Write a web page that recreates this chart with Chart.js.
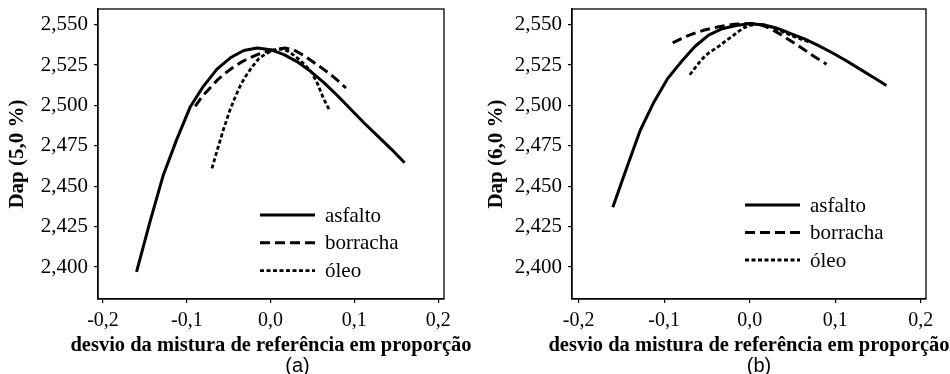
<!DOCTYPE html>
<html>
<head>
<meta charset="utf-8">
<script src="https://cdn.jsdelivr.net/npm/chart.js@4/dist/chart.umd.min.js"></script>
<style>
  html, body { margin: 0; padding: 0; background: #fff; }
  #wrap { position: relative; width: 950px; height: 374px; overflow: hidden; }
  canvas { position: absolute; top: 0; }
  #cA { left: 0; }
  #cB { left: 475px; }
</style>
</head>
<body>
<div id="wrap">
  <canvas id="cA" width="475" height="374"></canvas>
  <canvas id="cB" width="475" height="374"></canvas>
</div>
<script>
// Deviation from the reference mix (proportion) for each binder component
const asfaltoX  = [-0.16, -0.144, -0.128, -0.112, -0.096, -0.08, -0.064, -0.048, -0.032, -0.016, 0, 0.016, 0.032, 0.048, 0.064, 0.08, 0.096, 0.112, 0.128, 0.144, 0.16];
const borrachaX = [-0.09, -0.081, -0.072, -0.063, -0.054, -0.045, -0.036, -0.027, -0.018, -0.009, 0, 0.009, 0.018, 0.027, 0.036, 0.045, 0.054, 0.063, 0.072, 0.081, 0.09];
const oleoX     = [-0.07, -0.063, -0.056, -0.049, -0.042, -0.035, -0.028, -0.021, -0.014, -0.007, 0, 0.007, 0.014, 0.021, 0.028, 0.035, 0.042, 0.049, 0.056, 0.063, 0.07];

// (a) Dap at 5,0 % binder
const asfaltoA  = [2.397, 2.428, 2.457, 2.479, 2.499, 2.512, 2.5225, 2.5295, 2.534, 2.5355, 2.5345, 2.5315, 2.527, 2.521, 2.514, 2.506, 2.4975, 2.489, 2.481, 2.473, 2.4645];
const borrachaA = [2.4995, 2.506, 2.511, 2.516, 2.520, 2.5235, 2.5265, 2.529, 2.531, 2.5328, 2.534, 2.535, 2.5355, 2.5345, 2.532, 2.529, 2.5258, 2.5225, 2.519, 2.515, 2.5108];
const oleoA     = [2.461, 2.4735, 2.4855, 2.4965, 2.5055, 2.5135, 2.5195, 2.5245, 2.529, 2.5315, 2.5335, 2.5348, 2.5348, 2.5335, 2.531, 2.528, 2.5245, 2.5205, 2.5135, 2.5045, 2.4973];

// (b) Dap at 6,0 % binder
const asfaltoB  = [2.437, 2.461, 2.4845, 2.502, 2.5165, 2.527, 2.5365, 2.5435, 2.5475, 2.5495, 2.5505, 2.550, 2.5478, 2.5445, 2.5412, 2.5372, 2.5328, 2.528, 2.5228, 2.5176, 2.5124];
const borrachaB = [2.5387, 2.541, 2.5432, 2.545, 2.5465, 2.5477, 2.5487, 2.5495, 2.5502, 2.5506, 2.5508, 2.5505, 2.549, 2.5468, 2.544, 2.541, 2.538, 2.5348, 2.5315, 2.5285, 2.5255];
const oleoB     = [2.519, 2.5238, 2.5285, 2.532, 2.5345, 2.537, 2.540, 2.5425, 2.5455, 2.548, 2.5495, 2.5502, 2.550, 2.5493, 2.548, 2.5465, 2.5448, 2.5432, 2.5418, 2.5405, 2.5392];

const seriesNames = ['asfalto', 'borracha', 'óleo'];
const xTickValues = [-0.2, -0.1, 0.0, 0.1, 0.2];
const yTickValues = [2.400, 2.425, 2.450, 2.475, 2.500, 2.525, 2.550];
const xAxisTitle = 'desvio da mistura de referência em proporção';

const serif = '"Liberation Serif", "Times New Roman", serif';
const INK = '#000';

const pts = (xs, ys) => xs.map((x, i) => ({ x, y: ys[i] }));

// frame around the plot, in-plot legend, the x-axis title (allowed to run
// wider than the plot) and the panel caption
const decor = {
  id: 'decor',
  afterDraw(chart, args, o) {
    const { ctx, chartArea: a } = chart;
    ctx.save();
    ctx.strokeStyle = INK;
    ctx.lineWidth = 1.3;
    ctx.setLineDash([]);
    ctx.strokeRect(a.left, a.top, a.right - a.left, a.bottom - a.top);

    chart.data.datasets.forEach((ds, i) => {
      const y = o.legendY + i * o.legendGap;
      ctx.beginPath();
      ctx.setLineDash(ds.borderDash || []);
      ctx.lineWidth = ds.borderWidth;
      ctx.strokeStyle = ds.borderColor;
      ctx.moveTo(o.legendX, y);
      ctx.lineTo(o.legendX + 55, y);
      ctx.stroke();
      ctx.setLineDash([]);
      ctx.fillStyle = INK;
      ctx.font = '21px ' + serif;
      ctx.textAlign = 'left';
      ctx.textBaseline = 'alphabetic';
      ctx.fillText(ds.label, o.legendX + 65, y + 6.5);
    });

    ctx.fillStyle = INK;
    ctx.textAlign = 'center';
    ctx.textBaseline = 'alphabetic';
    ctx.font = 'bold 20.5px ' + serif;
    ctx.fillText(o.xTitle, (a.left + a.right) / 2, 351);

    ctx.font = '20px "Liberation Sans", Arial, sans-serif';
    ctx.fillText(o.caption, o.captionX, 371.5);
    ctx.restore();
  }
};

function makeChart(id, ys, yTitle, geom) {
  const styles = [
    { borderDash: [], borderWidth: 3 },
    { borderDash: [10, 5], borderWidth: 3 },
    { borderDash: [4, 2.5], borderWidth: 2.8 }
  ];
  const xs = [asfaltoX, borrachaX, oleoX];
  const datasets = seriesNames.map((name, i) => ({
    label: name,
    data: pts(xs[i], ys[i]),
    borderColor: INK,
    borderWidth: styles[i].borderWidth,
    borderDash: styles[i].borderDash,
    borderCapStyle: 'butt',
    borderJoinStyle: 'round',
    pointRadius: 0,
    tension: 0,
    fill: false
  }));

  return new Chart(document.getElementById(id), {
    type: 'line',
    data: { datasets },
    plugins: [decor],
    options: {
      responsive: false,
      animation: false,
      devicePixelRatio: 1,
      layout: { padding: { left: 0, top: 9, right: geom.padRight, bottom: 0 } },
      plugins: {
        legend: { display: false },
        tooltip: { enabled: false },
        decor: {
          legendX: geom.legendX, legendY: geom.legendY, legendGap: geom.legendGap,
          caption: geom.caption, captionX: geom.captionX, xTitle: xAxisTitle
        }
      },
      scales: {
        x: {
          type: 'linear',
          min: geom.xMin,
          max: geom.xMax,
          afterFit: s => { s.height = 75; s.paddingLeft = 0; s.paddingRight = 0; },
          afterBuildTicks: s => { s.ticks = xTickValues.map(v => ({ value: v })); },
          ticks: {
            includeBounds: false,
            padding: 6,
            color: INK,
            maxRotation: 0,
            font: { family: serif, size: 20 },
            callback: v => v.toFixed(1).replace('.', ',')
          },
          grid: { drawOnChartArea: false, drawTicks: true, tickLength: 4, color: INK, lineWidth: 1.2 },
          border: { display: true, color: INK, width: 1.3 },
          title: { display: false }
        },
        y: {
          type: 'linear',
          min: 2.3802,
          max: 2.5597,
          afterFit: s => { s.width = geom.yWidth; s.paddingTop = 0; s.paddingBottom = 0; },
          afterBuildTicks: s => { s.ticks = yTickValues.map(v => ({ value: v })); },
          ticks: {
            includeBounds: false,
            padding: 6,
            color: INK,
            font: { family: serif, size: 21 },
            callback: v => v.toFixed(3).replace('.', ',')
          },
          grid: { drawOnChartArea: false, drawTicks: true, tickLength: 4, color: INK, lineWidth: 1.2 },
          border: { display: true, color: INK, width: 1.3 },
          title: {
            display: true,
            text: yTitle,
            color: INK,
            font: { family: serif, size: 21, weight: 'bold' },
            padding: { top: geom.yTitlePad, bottom: 0 }
          }
        }
      }
    }
  });
}

makeChart('cA', [asfaltoA, borrachaA, oleoA], 'Dap (5,0 %)', {
  padRight: 31, yWidth: 98, xMin: -0.206, xMax: 0.207, yTitlePad: 5,
  legendX: 260, legendY: 215, legendGap: 27.8, caption: '(a)', captionX: 297.5
});

makeChart('cB', [asfaltoB, borrachaB, oleoB], 'Dap (6,0 %)', {
  padRight: 24, yWidth: 97, xMin: -0.2077, xMax: 0.2062, yTitlePad: 9,
  legendX: 270, legendY: 205, legendGap: 27.5, caption: '(b)', captionX: 284
});
</script>
</body>
</html>
